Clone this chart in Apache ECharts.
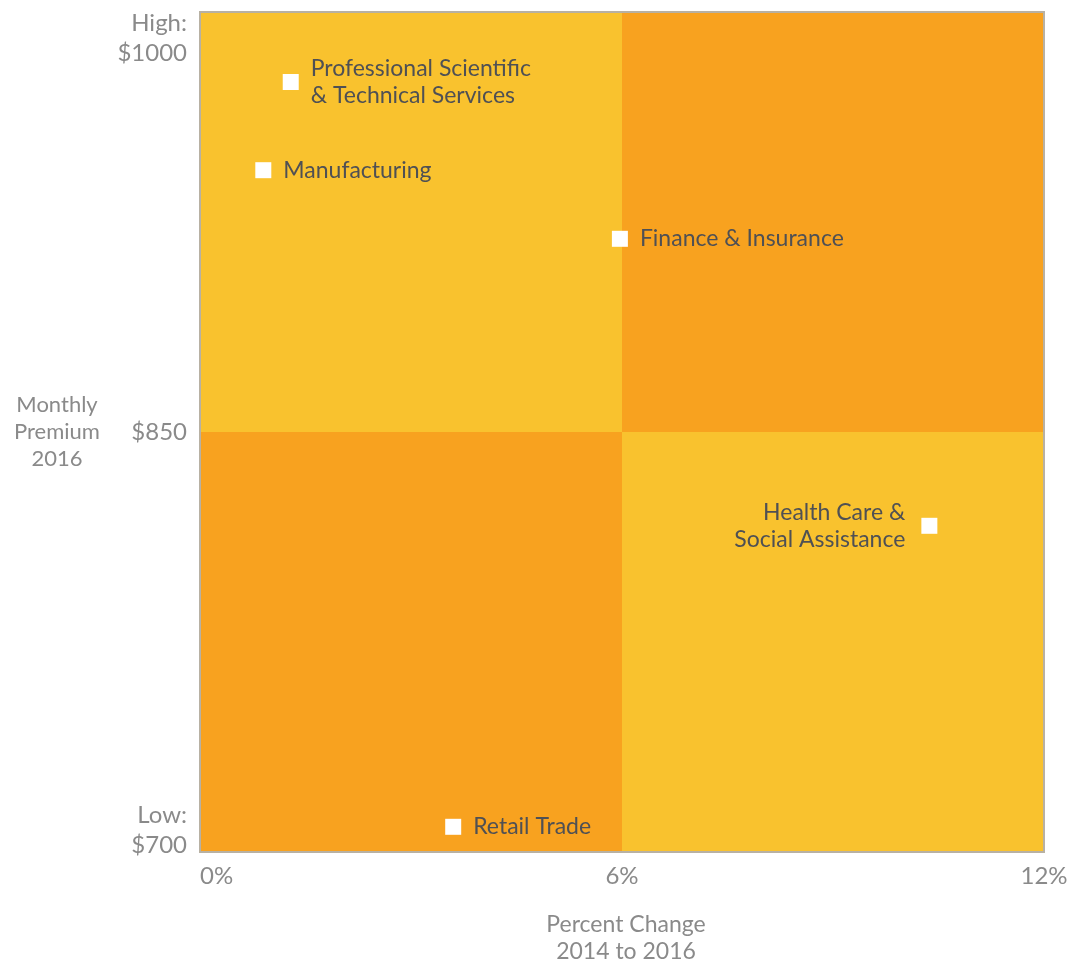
<!DOCTYPE html>
<html>
<head>
<meta charset="utf-8">
<script src="https://cdn.jsdelivr.net/npm/echarts@6/dist/echarts.min.js"></script>
<style>
  html, body { margin: 0; padding: 0; background: #fff; }
  #chart { width: 1081px; height: 960px; }
</style>
</head>
<body>
<div id="chart"></div>
<script>
// industries and their position (percent change, monthly premium)
var industries = ['Professional Scientific\n& Technical Services', 'Manufacturing', 'Finance & Insurance', 'Health Care &\nSocial Assistance', 'Retail Trade']
var pctChange = [1.29, 0.9, 5.97, 10.37, 3.6]
var premium = [975, 943.5, 919, 816.5, 709]
var labelSide = ['right', 'right', 'right', 'left', 'right']

var xTicks = [0, 6, 12]
var xTickLabels = ['0%', '6%', '12%']
var yTicks = [700, 850, 1000]
var yTickLabels = ['Low:\n$700', '$850', 'High:\n$1000']

var lightYellow = '#f9c22e'
var orange = '#f8a21f'
var font = 'Lato'

var myChart = echarts.init(document.getElementById('chart'))

var points = industries.map(function (name, i) {
    var left = labelSide[i] === 'left'
    return {
        name: name,
        value: [pctChange[i], premium[i]],
        label: {
            position: labelSide[i],
            align: left ? 'right' : 'left',
            distance: left ? 16 : 12
        }
    }
})

myChart.setOption({
    animation: false,
    grid: {
        left: 200, right: 37, top: 12, bottom: 108,
        outerBoundsMode: 'none',
        show: true,
        z: 10,
        backgroundColor: 'transparent',
        borderColor: '#b8b1a3',
        borderWidth: 2
    },
    xAxis: {
        type: 'value',
        min: xTicks[0], max: xTicks[2], interval: 6,
        axisLine: { show: false },
        axisTick: { show: false },
        splitLine: { show: false },
        axisLabel: {
            margin: 12,
            fontFamily: font, fontSize: 24, color: '#8a8a8a',
            alignMinLabel: 'left',
            formatter: function (v) { return xTickLabels[xTicks.indexOf(v)] }
        },
        name: 'Percent Change\n2014 to 2016',
        nameLocation: 'middle',
        nameGap: 59,
        nameTextStyle: { fontFamily: font, fontSize: 23, color: '#8a8a8a', lineHeight: 27, padding: [0, 0, 0, 8] }
    },
    yAxis: {
        type: 'value',
        min: yTicks[0], max: yTicks[2], interval: 150,
        axisLine: { show: false },
        axisTick: { show: false },
        splitLine: { show: false },
        axisLabel: {
            margin: 13,
            fontFamily: font, fontSize: 24, color: '#8a8a8a', lineHeight: 30,
            align: 'right',
            padding: [-4, 0, -8, 0],
            verticalAlignMinLabel: 'bottom',
            verticalAlignMaxLabel: 'top',
            formatter: function (v) { return yTickLabels[yTicks.indexOf(v)] }
        },
        name: 'Monthly\nPremium\n2016',
        nameLocation: 'middle',
        nameRotate: 0,
        nameGap: 143,
        nameTextStyle: { fontFamily: font, fontSize: 22, color: '#8a8a8a', lineHeight: 27, align: 'center', padding: [6, 0, 0, 0] }
    },
    series: [{
        type: 'scatter',
        symbol: 'rect',
        symbolSize: 16,
        itemStyle: { color: '#ffffff', opacity: 1 },
        label: {
            show: true,
            fontFamily: font,
            fontSize: 23,
            lineHeight: 27,
            color: '#4f5054',
            formatter: '{b}'
        },
        markArea: {
            silent: true,
            data: [
                [{ coord: [0, 850], itemStyle: { color: lightYellow } }, { coord: [6, 1000] }],
                [{ coord: [6, 850], itemStyle: { color: orange } }, { coord: [12, 1000] }],
                [{ coord: [0, 700], itemStyle: { color: orange } }, { coord: [6, 850] }],
                [{ coord: [6, 700], itemStyle: { color: lightYellow } }, { coord: [12, 850] }]
            ]
        },
        data: points
    }]
})
window.addEventListener('resize', myChart.resize)
</script>
</body>
</html>
